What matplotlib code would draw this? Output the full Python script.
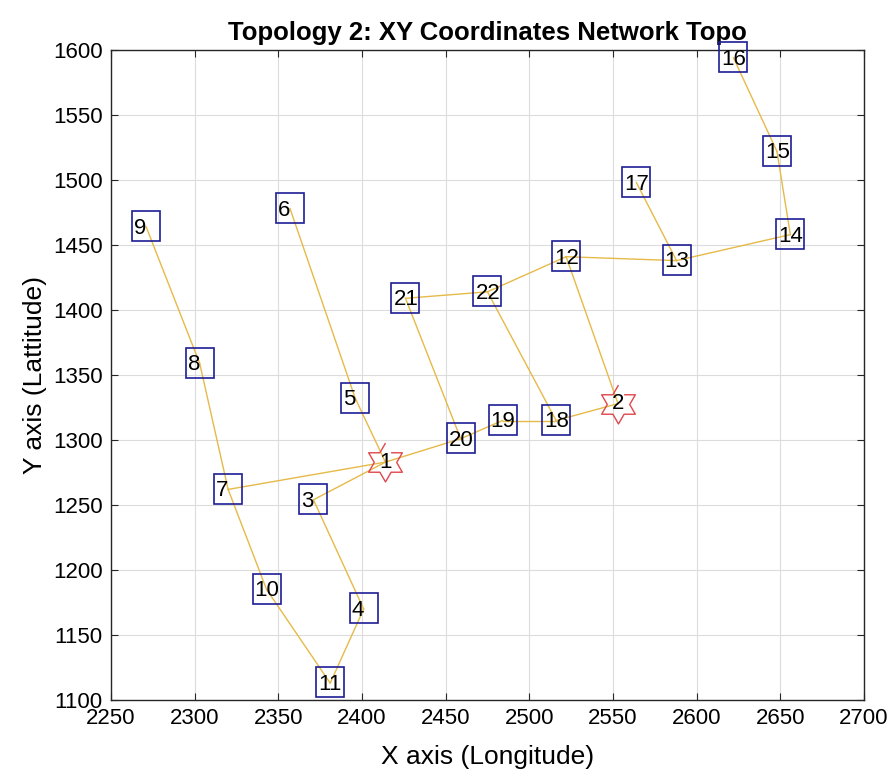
import numpy as np
import matplotlib
matplotlib.use('Agg')
import matplotlib.pyplot as plt
from matplotlib.path import Path

plt.rcParams['font.family'] = ['Liberation Sans', 'DejaVu Sans']

# node coordinates (longitude, latitude), node n is index n-1
node_x = [2414, 2553, 2371, 2401, 2396, 2357, 2320, 2303, 2271, 2343, 2381,
          2522, 2588, 2656, 2648, 2622, 2564, 2516, 2484, 2459, 2426, 2475]
node_y = [1283, 1328, 1254, 1170, 1332, 1478, 1262, 1359, 1464, 1185, 1113,
          1441, 1438, 1458, 1522, 1594, 1498, 1315, 1315, 1301, 1409, 1414]

# gateway nodes drawn as stars
gateways = [1, 2]

# links between nodes
links = [(9, 8), (8, 7), (7, 10), (10, 11), (11, 4), (4, 3), (3, 1), (7, 1),
         (6, 5), (5, 1), (1, 20), (20, 19), (19, 18), (18, 2), (20, 21),
         (21, 22), (22, 18), (22, 12), (12, 2), (12, 13), (13, 17),
         (13, 14), (14, 15), (15, 16)]

# six-pointed star marker
ang = np.pi / 2 + np.arange(12) * np.pi / 6
rad = np.where(np.arange(12) % 2 == 0, 1.0, 1 / np.sqrt(3))
hexagram = np.column_stack([rad * np.cos(ang), rad * np.sin(ang)])

BOX_W, BOX_H, BOX_PADL = 28, 30, 2  # label box size in pixels


def fixed_box(x0, y0, width, height, mutation_size):
    # same-size box for every label, text sits at its left side
    left = x0 - BOX_PADL
    bottom = y0 + height / 2 - BOX_H / 2 + 2
    return Path([(left, bottom), (left + BOX_W, bottom),
                 (left + BOX_W, bottom + BOX_H), (left, bottom + BOX_H),
                 (left, bottom)], closed=True)


fig = plt.figure(figsize=(8.93, 7.79), dpi=100)
ax = fig.add_axes([0.1243, 0.1014, 0.8432, 0.8344])

for a, b in links:
    ax.plot([node_x[a - 1], node_x[b - 1]], [node_y[a - 1], node_y[b - 1]],
            color='#E6BA48', lw=1.0, zorder=2)

for g in gateways:
    ax.plot(node_x[g - 1], node_y[g - 1], marker=hexagram, markersize=28,
            markerfacecolor='none', markeredgecolor='#E0474C',
            markeredgewidth=1.0, linestyle='none', zorder=3)

label_shift = -(BOX_W / 2 - BOX_PADL) * 72 / 100  # points
for i in range(len(node_x)):
    n = i + 1
    if n in gateways:
        ax.text(node_x[i], node_y[i], str(n), fontsize=16, color='black',
                ha='center', va='center', zorder=4)
    else:
        ax.annotate(str(n), (node_x[i], node_y[i]),
                    xytext=(label_shift, -1), textcoords='offset points',
                    fontsize=16, color='black', ha='left', va='center',
                    zorder=4,
                    bbox=dict(boxstyle=fixed_box, facecolor='none',
                              edgecolor='#1E1E96', linewidth=1.2))

ax.set_xlim(2250, 2700)
ax.set_ylim(1100, 1600)
ax.set_xticks(np.arange(2250, 2701, 50))
ax.set_yticks(np.arange(1100, 1601, 50))
ax.grid(True, color='#DCDCDC', linewidth=0.8)
ax.set_axisbelow(True)
ax.tick_params(direction='in', length=5, top=True, right=True,
               labelsize=16, color='#262626', pad=6)
for s in ax.spines.values():
    s.set_color('#262626')
    s.set_linewidth(1.0)

ax.set_title('Topology 2: XY Coordinates Network Topo', fontsize=18.5,
             fontweight='bold', pad=7)
ax.set_xlabel('X axis (Longitude)', fontsize=19, labelpad=11)
ax.set_ylabel('Y axis (Lattitude)', fontsize=19, labelpad=4)

fig.savefig('out.png', dpi=100)
